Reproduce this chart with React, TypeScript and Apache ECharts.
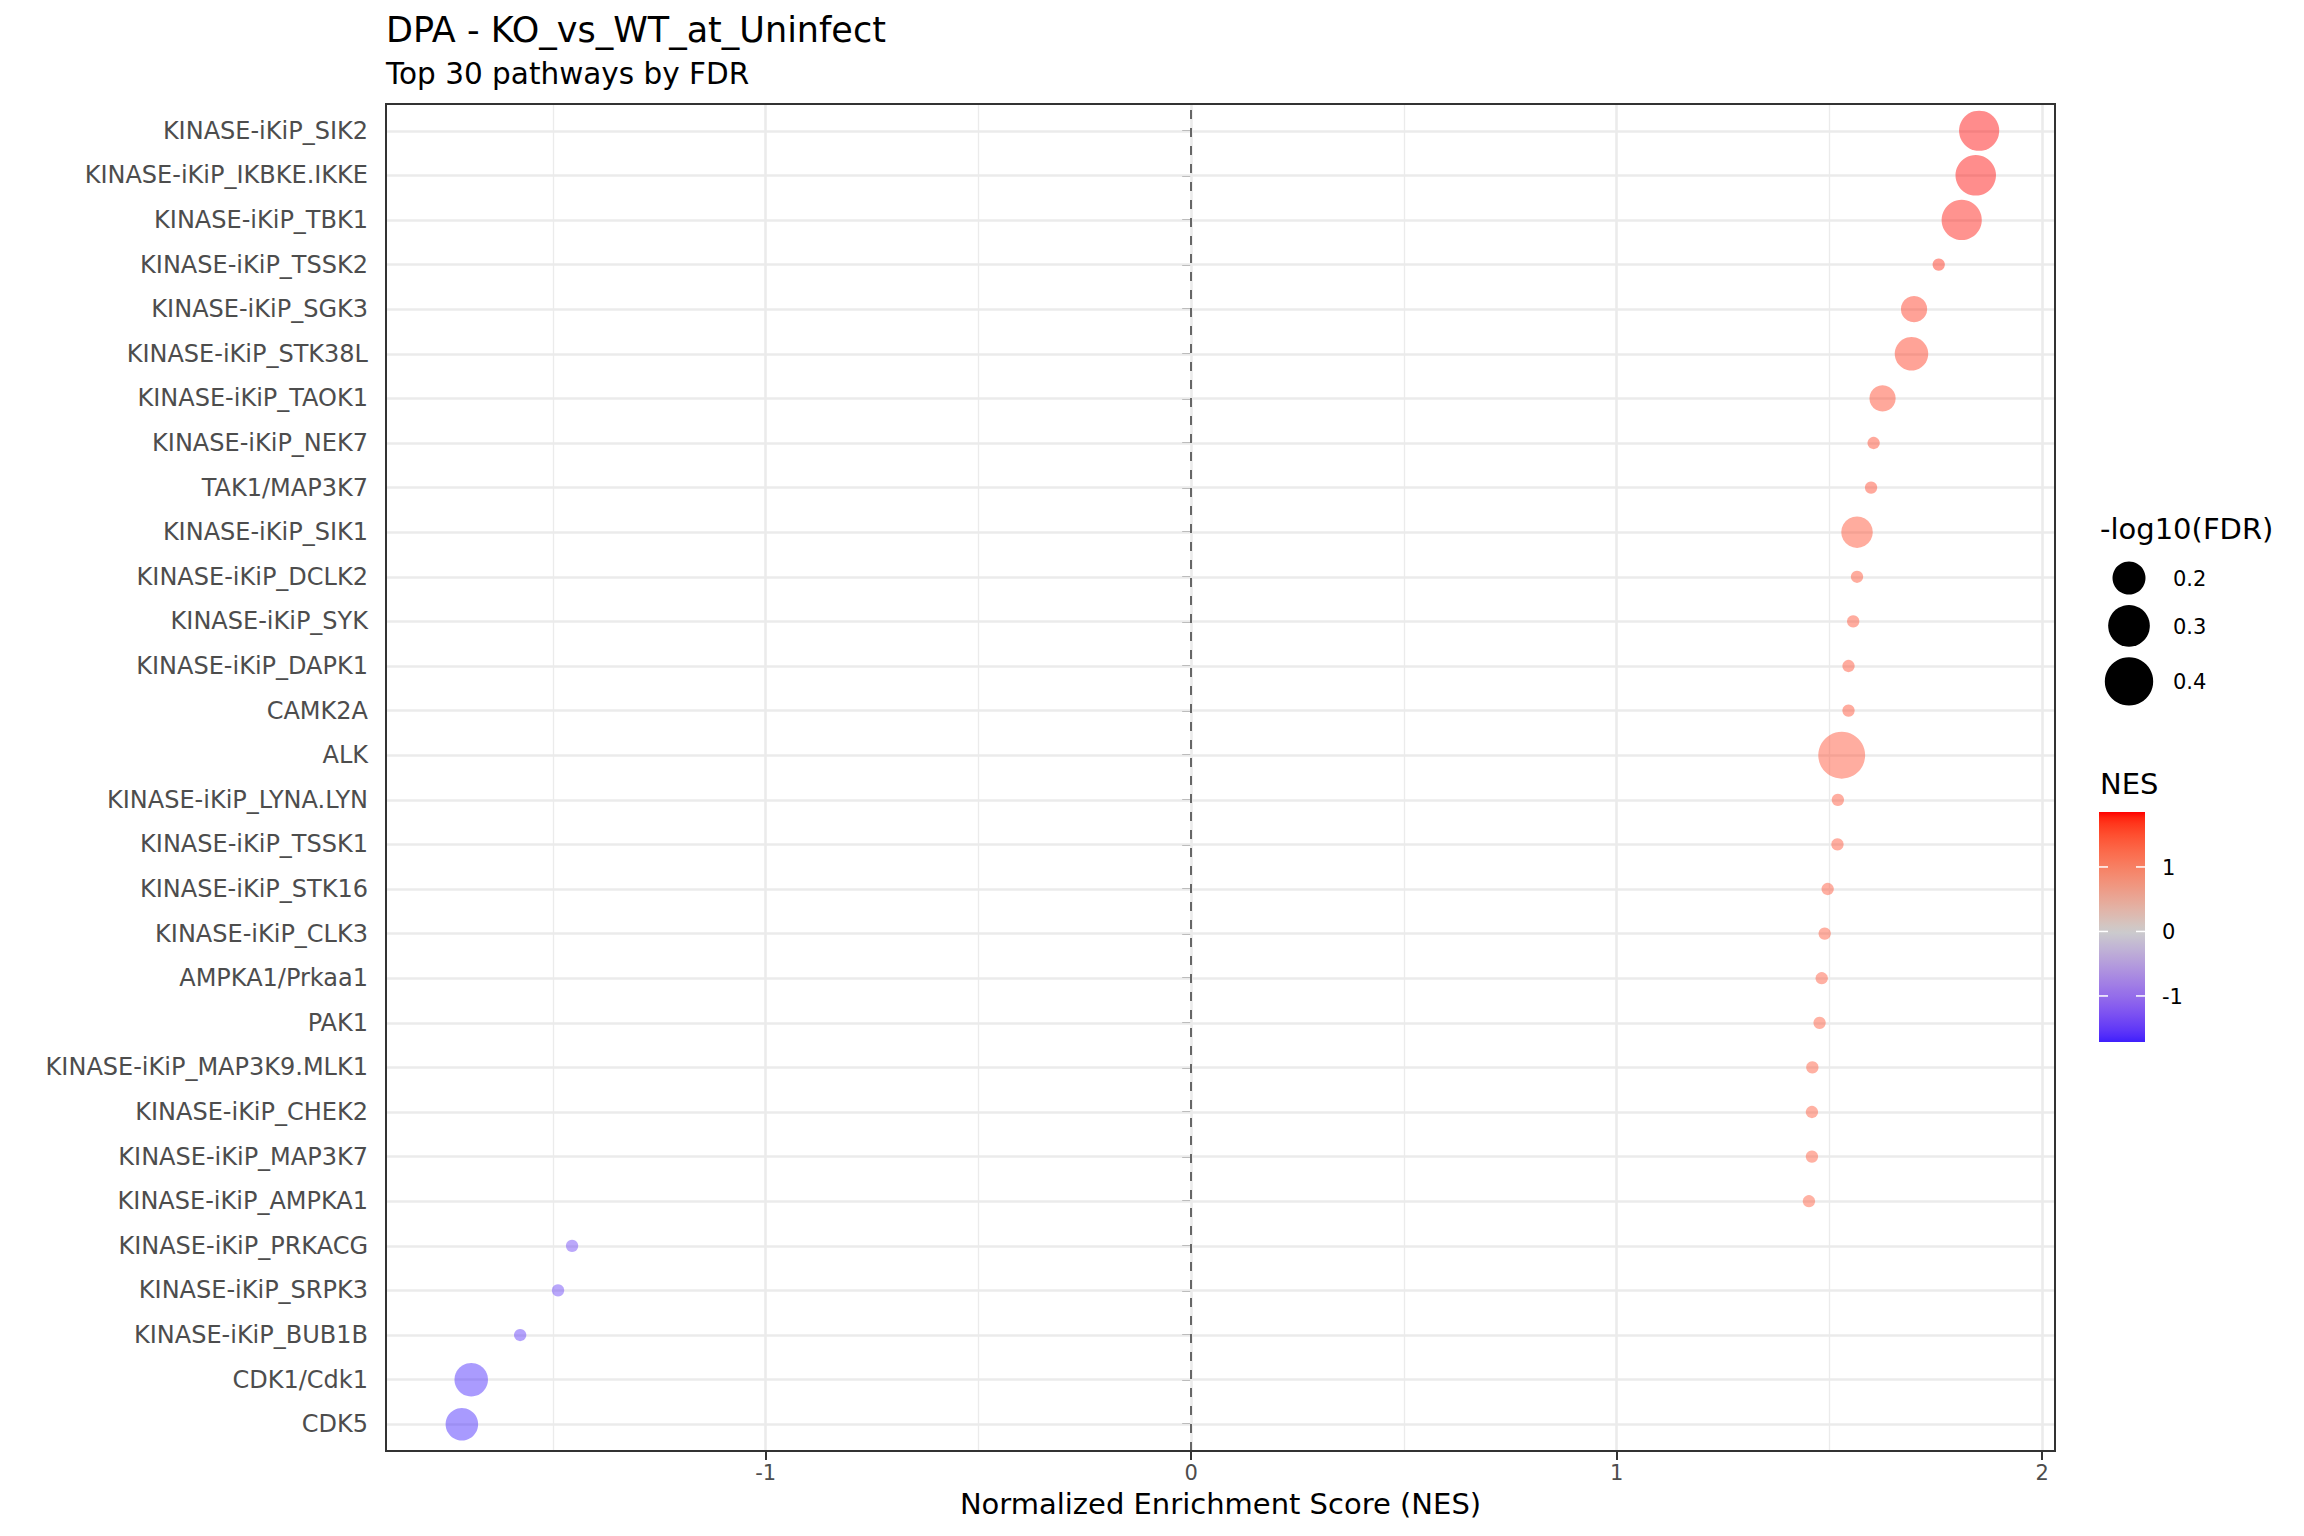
import React, { useEffect, useRef } from "react";
import * as echarts from "echarts";

const PATHWAYS = [
  "KINASE-iKiP_SIK2",
  "KINASE-iKiP_IKBKE.IKKE",
  "KINASE-iKiP_TBK1",
  "KINASE-iKiP_TSSK2",
  "KINASE-iKiP_SGK3",
  "KINASE-iKiP_STK38L",
  "KINASE-iKiP_TAOK1",
  "KINASE-iKiP_NEK7",
  "TAK1/MAP3K7",
  "KINASE-iKiP_SIK1",
  "KINASE-iKiP_DCLK2",
  "KINASE-iKiP_SYK",
  "KINASE-iKiP_DAPK1",
  "CAMK2A",
  "ALK",
  "KINASE-iKiP_LYNA.LYN",
  "KINASE-iKiP_TSSK1",
  "KINASE-iKiP_STK16",
  "KINASE-iKiP_CLK3",
  "AMPKA1/Prkaa1",
  "PAK1",
  "KINASE-iKiP_MAP3K9.MLK1",
  "KINASE-iKiP_CHEK2",
  "KINASE-iKiP_MAP3K7",
  "KINASE-iKiP_AMPKA1",
  "KINASE-iKiP_PRKACG",
  "KINASE-iKiP_SRPK3",
  "KINASE-iKiP_BUB1B",
  "CDK1/Cdk1",
  "CDK5",
];

const NES = [
  1.852, 1.844, 1.811, 1.757, 1.699, 1.693, 1.625, 1.604, 1.598, 1.565,
  1.565, 1.556, 1.545, 1.545, 1.529, 1.52, 1.519, 1.496, 1.489, 1.482,
  1.477, 1.46, 1.459, 1.459, 1.452, -1.455, -1.488, -1.577, -1.692, -1.714,
];

const LOG_FDR = [
  0.304, 0.308, 0.304, 0.101, 0.158, 0.223, 0.158, 0.101, 0.101, 0.203,
  0.101, 0.101, 0.101, 0.101, 0.405, 0.101, 0.101, 0.101, 0.101, 0.101,
  0.101, 0.101, 0.101, 0.101, 0.101, 0.101, 0.101, 0.101, 0.223, 0.213,
];

const X_TICKS = [-1, 0, 1, 2];
const SIZE_BREAKS = [0.2, 0.3, 0.4];
const NES_BREAKS = [1, 0, -1];

const TITLE = "DPA - KO_vs_WT_at_Uninfect";
const SUBTITLE = "Top 30 pathways by FDR";
const X_TITLE = "Normalized Enrichment Score (NES)";
const SIZE_TITLE = "-log10(FDR)";
const COLOR_TITLE = "NES";

const FONT = "DejaVu Sans";
const STROKE = 1.8;

// ---------- colour helpers (ggplot-like gradient2 in Lab space) ----------
function toLin(c: number) {
  c /= 255;
  return c <= 0.04045 ? c / 12.92 : Math.pow((c + 0.055) / 1.055, 2.4);
}
function fromLin(c: number) {
  const v = c <= 0.0031308 ? 12.92 * c : 1.055 * Math.pow(c, 1 / 2.4) - 0.055;
  return Math.round(Math.max(0, Math.min(1, v)) * 255);
}
function hexToLab(hex: string) {
  const r = toLin(parseInt(hex.slice(1, 3), 16));
  const g = toLin(parseInt(hex.slice(3, 5), 16));
  const b = toLin(parseInt(hex.slice(5, 7), 16));
  const X = (0.4124 * r + 0.3576 * g + 0.1805 * b) / 0.95047;
  const Y = 0.2126 * r + 0.7152 * g + 0.0722 * b;
  const Z = (0.0193 * r + 0.1192 * g + 0.9505 * b) / 1.08883;
  const f = (t: number) => (t > 0.008856 ? Math.cbrt(t) : 7.787 * t + 16 / 116);
  const fx = f(X), fy = f(Y), fz = f(Z);
  return [116 * fy - 16, 500 * (fx - fy), 200 * (fy - fz)];
}
function labToHex(L: number, a: number, b: number) {
  const fy = (L + 16) / 116;
  const fx = fy + a / 500;
  const fz = fy - b / 200;
  const inv = (t: number) => (t * t * t > 0.008856 ? t * t * t : (t - 16 / 116) / 7.787);
  const X = inv(fx) * 0.95047, Y = inv(fy), Z = inv(fz) * 1.08883;
  const r = 3.2406 * X - 1.5372 * Y - 0.4986 * Z;
  const g = -0.9689 * X + 1.8758 * Y + 0.0415 * Z;
  const bb = 0.0557 * X - 0.204 * Y + 1.057 * Z;
  const h = (n: number) => fromLin(n).toString(16).padStart(2, "0");
  return "#" + h(r) + h(g) + h(bb);
}
const LOW = hexToLab("#0000ff");
const MID = hexToLab("#cccccc");
const HIGH = hexToLab("#ff0000");
function gradColor(t: number) {
  const tt = Math.max(-1, Math.min(1, t));
  const end = tt < 0 ? LOW : HIGH;
  const k = Math.abs(tt);
  return labToHex(
    MID[0] + (end[0] - MID[0]) * k,
    MID[1] + (end[1] - MID[1]) * k,
    MID[2] + (end[2] - MID[2]) * k
  );
}

// size mapping for -log10(FDR): outer diameter in px
function sizeOf(v: number) {
  return 12 + 66.4 * Math.sqrt(Math.max(0, v - 0.1));
}

function txt(x: number, y: number, text: string, size: number, align = "left") {
  return {
    type: "text",
    x,
    y,
    style: { text, fontSize: size, fontFamily: FONT, fill: "#000", verticalAlign: "middle", align },
  };
}

export default function App() {
  const ref = useRef<HTMLDivElement>(null);

  useEffect(() => {
    if (!ref.current) return;
    const chart = echarts.init(ref.current, undefined, { renderer: "svg" });

    const nMin = Math.min(...NES);
    const nMax = Math.max(...NES);
    const span = nMax - nMin;
    const xMin = nMin - 0.05 * span;
    const xMax = nMax + 0.05 * span;
    const M = Math.max(Math.abs(nMin), Math.abs(nMax));

    const palette: string[] = [];
    for (let i = 0; i <= 40; i++) palette.push(gradColor(-1 + (2 * i) / 40));

    // panel geometry
    const PL = 386, PR = 249, PT = 104, PB = 85;
    const panelH = 1536 - PT - PB;
    const step = panelH / (PATHWAYS.length - 1 + 1.2);
    const gTop = PT + 0.1 * step;
    const gBot = PB + 0.1 * step;

    const minor = X_TICKS.map((v) => v - 0.5).filter((v) => v > xMin && v < xMax);

    const noLine = {
      symbol: ["none", "none"],
      silent: true,
      label: { show: false },
      emphasis: { disabled: true },
      animation: false,
    };

    const graphics: any[] = [];
    graphics.push(
      txt(386, 30, TITLE, 35),
      txt(386, 74, SUBTITLE, 29.5),
      txt(PL + (2304 - PL - PR) / 2, 1504, X_TITLE, 29, "center"),
      txt(2100, 529, SIZE_TITLE, 29),
      txt(2100, 784, COLOR_TITLE, 29)
    );
    let cy = 578;
    SIZE_BREAKS.forEach((v, i) => {
      const d = sizeOf(v);
      if (i > 0) cy += (sizeOf(SIZE_BREAKS[i - 1]) + d) / 2 + 10.5;
      graphics.push(
        { type: "circle", shape: { cx: 2129, cy, r: d / 2 }, style: { fill: "#000" } },
        txt(2173, cy + 1, v.toFixed(1), 21)
      );
    });
    const cbTop = 812, cbH = 230, cbX = 2099, cbW = 46;
    const stops: any[] = [];
    for (let i = 0; i <= 40; i++) {
      const v = nMax - ((nMax - nMin) * i) / 40;
      stops.push({ offset: i / 40, color: gradColor(v / M) });
    }
    graphics.push({
      type: "rect",
      shape: { x: cbX, y: cbTop, width: cbW, height: cbH },
      style: { fill: new echarts.graphic.LinearGradient(0, 0, 0, 1, stops) },
    });
    NES_BREAKS.forEach((v) => {
      const y = cbTop + ((nMax - v) / (nMax - nMin)) * cbH;
      graphics.push(
        { type: "line", shape: { x1: cbX, y1: y, x2: cbX + 9, y2: y }, style: { stroke: "#fff", lineWidth: 1.5 } },
        { type: "line", shape: { x1: cbX + cbW - 9, y1: y, x2: cbX + cbW, y2: y }, style: { stroke: "#fff", lineWidth: 1.5 } },
        txt(2162, y + 1, String(v), 21)
      );
    });

    const option: any = {
      animation: false,
      backgroundColor: "#ffffff",
      textStyle: { fontFamily: FONT },
      grid: [
        { left: PL, right: PR, top: gTop, bottom: gBot, outerBoundsMode: "none", containLabel: false },
        { left: PL, right: PR, top: PT, bottom: PB, outerBoundsMode: "none", containLabel: false, show: true, borderColor: "#333333", borderWidth: 2, backgroundColor: "transparent", z: 10 },
      ],
      xAxis: [
        { type: "value", gridIndex: 0, min: xMin, max: xMax, show: false, splitLine: { show: false } },
        {
          type: "value",
          gridIndex: 1,
          min: xMin,
          max: xMax,
          axisLine: { show: false },
          splitLine: { show: false },
          axisTick: { show: true, customValues: X_TICKS, length: 9, lineStyle: { color: "#333333", width: 2 } },
          axisLabel: { customValues: X_TICKS, color: "#4d4d4d", fontSize: 21, fontFamily: FONT, margin: 11, formatter: (v: number) => String(v) },
        },
      ],
      yAxis: [
        {
          type: "category",
          gridIndex: 0,
          data: PATHWAYS,
          inverse: true,
          boundaryGap: true,
          axisLine: { show: false },
          splitLine: { show: false },
          axisTick: { show: true, alignWithLabel: true, length: 9, lineStyle: { color: "#333333", width: 2 } },
          axisLabel: { color: "#4d4d4d", fontSize: 24, fontFamily: FONT, margin: 18, interval: 0 },
        },
        { type: "value", gridIndex: 1, min: 0, max: 1, show: false, splitLine: { show: false } },
      ],
      visualMap: {
        type: "continuous",
        show: false,
        seriesIndex: 3,
        dimension: 0,
        min: -M,
        max: M,
        inRange: { color: palette },
      },
      graphic: graphics,
      series: [
        {
          type: "scatter",
          xAxisIndex: 1,
          yAxisIndex: 1,
          data: [[0, 0.5]],
          symbolSize: 0,
          silent: true,
          z: 1,
          markLine: {
            ...noLine,
            data: [
              ...minor.map((v) => ({ xAxis: v, lineStyle: { color: "#ebebeb", width: 1.3, type: "solid" } })),
              ...X_TICKS.map((v) => ({ xAxis: v, lineStyle: { color: "#ebebeb", width: 2.6, type: "solid" } })),
            ],
          },
        },
        {
          type: "scatter",
          xAxisIndex: 0,
          yAxisIndex: 0,
          data: [[0, PATHWAYS[0]]],
          symbolSize: 0,
          silent: true,
          z: 1,
          markLine: {
            ...noLine,
            data: PATHWAYS.map((n) => ({ yAxis: n, lineStyle: { color: "#ebebeb", width: 2.6, type: "solid" } })),
          },
        },
        {
          type: "scatter",
          xAxisIndex: 1,
          yAxisIndex: 1,
          data: [[0, 0.5]],
          symbolSize: 0,
          silent: true,
          z: 2,
          markLine: {
            ...noLine,
            data: [{ xAxis: 0, lineStyle: { color: "#666666", width: 2, type: [9, 9] } }],
          },
        },
        {
          type: "scatter",
          xAxisIndex: 0,
          yAxisIndex: 0,
          z: 5,
          data: NES.map((x, i) => [x, PATHWAYS[i], LOG_FDR[i]]),
          symbol: "circle",
          symbolSize: (val: any) => sizeOf(val[2]) - STROKE,
          itemStyle: { opacity: 0.45, borderWidth: STROKE },
          emphasis: { disabled: true },
        },
      ],
    };

    chart.setOption(option);
    return () => chart.dispose();
  }, []);

  return (
    <div
      ref={ref}
      style={{ position: "fixed", left: 0, top: 0, width: 2304, height: 1536, background: "#fff" }}
    />
  );
}
